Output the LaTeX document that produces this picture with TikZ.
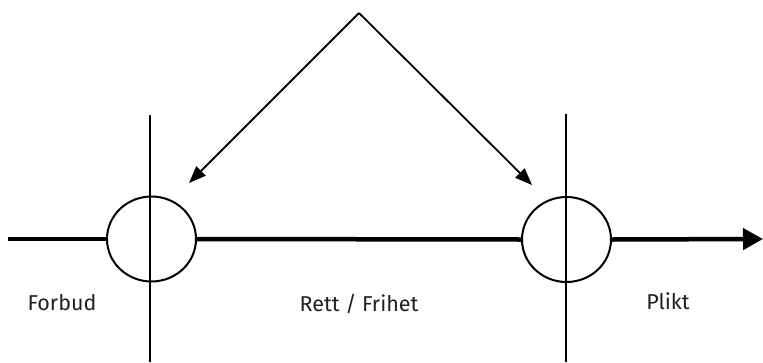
\documentclass[tikz,border=0pt]{standalone}
\usepackage{fontspec}
\setmainfont{Fira Sans}
\usetikzlibrary{arrows.meta,shapes.geometric}
\begin{document}
\begin{tikzpicture}[x=1pt,y=-1pt,
  thinline/.style={line width=1.8pt,black},
  axis/.style={line width=4.5pt,black},
  ring/.style={ellipse,draw,line width=2pt,minimum width=89pt,minimum height=85pt,inner sep=0pt},
  lbl/.style={font=\fontsize{21.5}{24}\selectfont,text=black!88,inner sep=0pt,anchor=base}]
\useasboundingbox (0,0) rectangle (763,362);
% vertical lines
\coordinate (vLt) at (150,115);
\coordinate (vLb) at (150,362);
\coordinate (vRt) at (566,114);
\coordinate (vRb) at (566,362);
\draw[thinline] (vLt) -- (vLb);
\draw[thinline] (vRt) -- (vRb);
% circles
\node[ring] (cL) at (151.5,239) {};
\node[ring] (cR) at (566.5,239.5) {};
% main axis
\coordinate (start) at (8,239);
\coordinate (end) at (763,239);
\draw[axis] (start) -- (cL.west);
\draw[axis] (cL.east) -- (cR.west);
\draw[axis,-{Triangle[length=20pt,width=21pt]}] (cR.east) -- (end);
% diagonal arrows
\coordinate (apex) at (359,13);
\coordinate (tipL) at (189,183);
\coordinate (tipR) at (532,185);
\draw[thinline,-{Triangle[length=17pt,width=13pt]}] (apex) -- (tipL);
\draw[thinline,-{Triangle[length=17pt,width=13pt]}] (apex) -- (tipR);
% labels
\node[lbl] (forbud) at (62,310.5) {Forbud};
\node[lbl] (rett) at (359,311) {Rett / Frihet};
\node[lbl] (plikt) at (668,309.5) {Plikt};
\end{tikzpicture}
\end{document}
